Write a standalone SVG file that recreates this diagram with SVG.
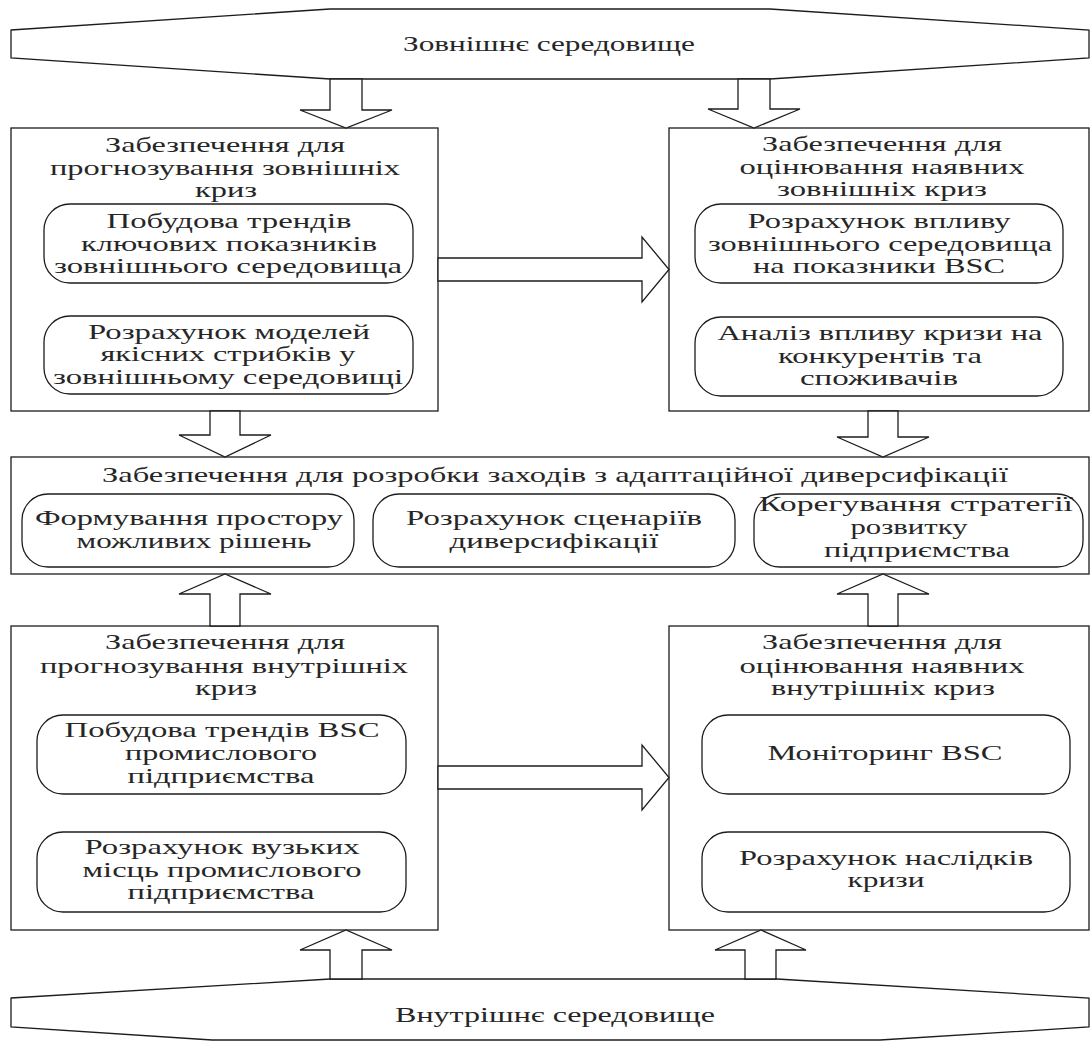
<svg xmlns="http://www.w3.org/2000/svg" width="1091" height="1041" viewBox="0 0 1091 1041">
  <style>
    .shape { fill: #ffffff; stroke: #1c1c1c; stroke-width: 1.3; }
    .arrow { fill: #ffffff; stroke: #1c1c1c; stroke-width: 1.3; stroke-linejoin: miter; }
    text { font-family: "Liberation Serif", "Times New Roman", serif; font-size: 22px; fill: #262626; text-anchor: middle; }
  </style>
  <rect x="0" y="0" width="1091" height="1041" fill="#ffffff"/>

  <!-- External environment banner -->
  <g id="external-env">
    <polygon class="shape" points="11,30 330,9 770,9 1089,30 1089,58 770,79 330,79 11,58"/>
    <text x="549" y="51" textLength="292" lengthAdjust="spacingAndGlyphs">Зовнішнє середовище</text>
  </g>

  <!-- Internal environment banner (runs off the bottom edge) -->
  <g id="internal-env">
    <polygon class="shape" points="11,998 330,979 777,979 1089,998 1089,1027 880,1040 212,1040 11,1027"/>
    <text x="555" y="1022" textLength="320" lengthAdjust="spacingAndGlyphs">Внутрішнє середовище</text>
  </g>

  <!-- Forecasting external crises -->
  <g id="forecast-external">
    <rect class="shape" x="11" y="128" width="427" height="283"/>
    <text x="225" y="152" textLength="240" lengthAdjust="spacingAndGlyphs">Забезпечення для</text>
    <text x="225" y="175" textLength="350" lengthAdjust="spacingAndGlyphs">прогнозування зовнішніх</text>
    <text x="226" y="197" textLength="62" lengthAdjust="spacingAndGlyphs">криз</text>
    <rect class="shape" x="44" y="204" width="369" height="79" rx="26" ry="26"/>
    <text x="229" y="228" textLength="245" lengthAdjust="spacingAndGlyphs">Побудова трендів</text>
    <text x="229" y="251" textLength="296" lengthAdjust="spacingAndGlyphs">ключових показників</text>
    <text x="228" y="273" textLength="348" lengthAdjust="spacingAndGlyphs">зовнішнього середовища</text>
    <rect class="shape" x="44" y="316" width="369" height="78" rx="26" ry="26"/>
    <text x="229" y="339" textLength="282" lengthAdjust="spacingAndGlyphs">Розрахунок моделей</text>
    <text x="228" y="361" textLength="255" lengthAdjust="spacingAndGlyphs">якісних стрибків у</text>
    <text x="228" y="384" textLength="350" lengthAdjust="spacingAndGlyphs">зовнішньому середовищі</text>
  </g>

  <!-- Assessing existing external crises -->
  <g id="assess-external">
    <rect class="shape" x="669" y="128" width="420" height="283"/>
    <text x="882" y="151" textLength="240" lengthAdjust="spacingAndGlyphs">Забезпечення для</text>
    <text x="882" y="174" textLength="285" lengthAdjust="spacingAndGlyphs">оцінювання наявних</text>
    <text x="882" y="196" textLength="210" lengthAdjust="spacingAndGlyphs">зовнішніх криз</text>
    <rect class="shape" x="695" y="204" width="368" height="79" rx="26" ry="26"/>
    <text x="879" y="228" textLength="263" lengthAdjust="spacingAndGlyphs">Розрахунок впливу</text>
    <text x="880" y="251" textLength="344" lengthAdjust="spacingAndGlyphs">зовнішнього середовища</text>
    <text x="879" y="273" textLength="252" lengthAdjust="spacingAndGlyphs">на показники BSC</text>
    <rect class="shape" x="695" y="317" width="368" height="79" rx="26" ry="26"/>
    <text x="880" y="340" textLength="325" lengthAdjust="spacingAndGlyphs">Аналіз впливу кризи на</text>
    <text x="880" y="363" textLength="204" lengthAdjust="spacingAndGlyphs">конкурентів та</text>
    <text x="879" y="385" textLength="158" lengthAdjust="spacingAndGlyphs">споживачів</text>
  </g>

  <!-- Adaptive diversification measures -->
  <g id="diversification">
    <rect class="shape" x="11" y="457" width="1078" height="117"/>
    <text x="555" y="482" textLength="906" lengthAdjust="spacingAndGlyphs">Забезпечення для розробки заходів з адаптаційної диверсифікації</text>
    <rect class="shape" x="22" y="494" width="332" height="73" rx="26" ry="26"/>
    <text x="189" y="525" textLength="308" lengthAdjust="spacingAndGlyphs">Формування простору</text>
    <text x="194" y="548" textLength="235" lengthAdjust="spacingAndGlyphs">можливих рішень</text>
    <rect class="shape" x="373" y="494" width="362" height="73" rx="26" ry="26"/>
    <text x="554" y="525" textLength="296" lengthAdjust="spacingAndGlyphs">Розрахунок сценаріїв</text>
    <text x="554" y="548" textLength="209" lengthAdjust="spacingAndGlyphs">диверсифікації</text>
    <rect class="shape" x="754" y="494" width="329" height="73" rx="26" ry="26"/>
    <text x="916" y="511" textLength="314" lengthAdjust="spacingAndGlyphs">Корегування стратегії</text>
    <text x="909" y="534" textLength="117" lengthAdjust="spacingAndGlyphs">розвитку</text>
    <text x="917" y="557" textLength="186" lengthAdjust="spacingAndGlyphs">підприємства</text>
  </g>

  <!-- Forecasting internal crises -->
  <g id="forecast-internal">
    <rect class="shape" x="11" y="626" width="427" height="304"/>
    <text x="225" y="649" textLength="240" lengthAdjust="spacingAndGlyphs">Забезпечення для</text>
    <text x="224" y="673" textLength="368" lengthAdjust="spacingAndGlyphs">прогнозування внутрішніх</text>
    <text x="226" y="695" textLength="62" lengthAdjust="spacingAndGlyphs">криз</text>
    <rect class="shape" x="37" y="715" width="369" height="79" rx="26" ry="26"/>
    <text x="222" y="737" textLength="315" lengthAdjust="spacingAndGlyphs">Побудова трендів BSC</text>
    <text x="221" y="760" textLength="192" lengthAdjust="spacingAndGlyphs">промислового</text>
    <text x="221" y="783" textLength="187" lengthAdjust="spacingAndGlyphs">підприємства</text>
    <rect class="shape" x="37" y="832" width="369" height="80" rx="26" ry="26"/>
    <text x="222" y="854" textLength="275" lengthAdjust="spacingAndGlyphs">Розрахунок вузьких</text>
    <text x="222" y="877" textLength="279" lengthAdjust="spacingAndGlyphs">місць промислового</text>
    <text x="221" y="899" textLength="187" lengthAdjust="spacingAndGlyphs">підприємства</text>
  </g>

  <!-- Assessing existing internal crises -->
  <g id="assess-internal">
    <rect class="shape" x="669" y="626" width="420" height="304"/>
    <text x="882" y="649" textLength="240" lengthAdjust="spacingAndGlyphs">Забезпечення для</text>
    <text x="882" y="673" textLength="285" lengthAdjust="spacingAndGlyphs">оцінювання наявних</text>
    <text x="883" y="695" textLength="224" lengthAdjust="spacingAndGlyphs">внутрішніх криз</text>
    <rect class="shape" x="702" y="715" width="368" height="79" rx="26" ry="26"/>
    <text x="885" y="760" textLength="235" lengthAdjust="spacingAndGlyphs">Моніторинг BSC</text>
    <rect class="shape" x="702" y="832" width="368" height="80" rx="26" ry="26"/>
    <text x="886" y="865" textLength="294" lengthAdjust="spacingAndGlyphs">Розрахунок наслідків</text>
    <text x="886" y="887" textLength="77" lengthAdjust="spacingAndGlyphs">кризи</text>
  </g>

  <!-- Block arrows -->
  <g id="connectors">
    <!-- from external environment -->
    <path class="arrow" d="M330,79 L362,79 L362,110 L392,110 L346,128 L300,110 L330,110 Z"/>
    <path class="arrow" d="M738,79 L770,79 L770,109 L800,109 L754,128 L708,109 L738,109 Z"/>
    <!-- external forecasting to external assessment -->
    <path class="arrow" d="M438,258 L642,258 L642,237 L669,269.5 L642,302 L642,281 L438,281 Z"/>
    <!-- into the diversification block -->
    <path class="arrow" d="M210,411 L240,411 L240,435 L271,435 L225,457 L179,435 L210,435 Z"/>
    <path class="arrow" d="M868,411 L898,411 L898,437 L929,437 L883,457 L837,437 L868,437 Z"/>
    <path class="arrow" d="M210,626 L240,626 L240,594 L271,594 L225,574 L179,594 L210,594 Z"/>
    <path class="arrow" d="M868,626 L898,626 L898,594 L929,594 L883,574 L837,594 L868,594 Z"/>
    <!-- internal forecasting to internal assessment -->
    <path class="arrow" d="M438,766 L642,766 L642,745 L669,777.5 L642,810 L642,789 L438,789 Z"/>
    <!-- from internal environment -->
    <path class="arrow" d="M330,979 L362,979 L362,950 L392,950 L346,930 L300,950 L330,950 Z"/>
    <path class="arrow" d="M745,979 L776,979 L776,950 L806,950 L761,930 L715,950 L745,950 Z"/>
  </g>
</svg>
